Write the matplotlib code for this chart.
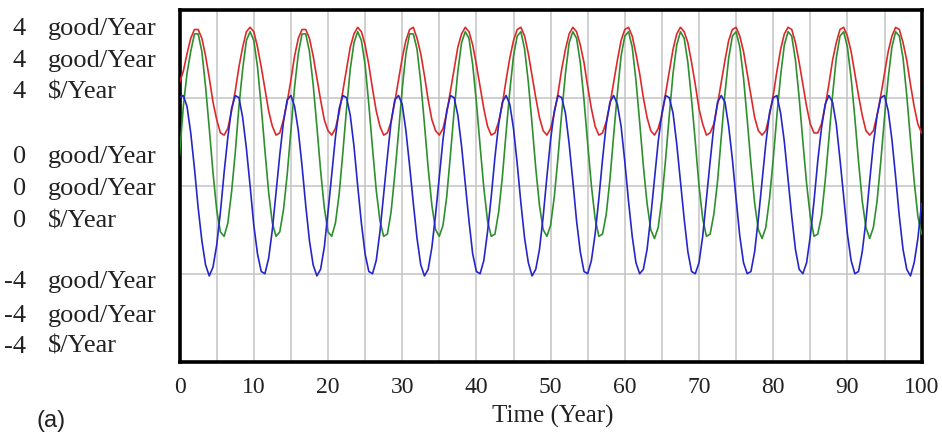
import numpy as np
import matplotlib
matplotlib.use("Agg")
import matplotlib.pyplot as plt

time = np.linspace(0, 100, 201)

red = [4.7, 5.2, 6.0, 6.7, 7.1, 7.1, 6.7, 5.9, 4.9, 3.8,
       3.0, 2.4, 2.3, 2.6, 3.4, 4.3, 5.4, 6.3, 7.0, 7.2,
       7.0, 6.3, 5.4, 4.4, 3.4, 2.7, 2.3, 2.4, 3.0, 3.8,
       4.8, 5.9, 6.7, 7.1, 7.1, 6.7, 5.9, 4.9, 3.9, 3.0,
       2.5, 2.3, 2.6, 3.3, 4.3, 5.3, 6.3, 6.9, 7.2, 7.0,
       6.4, 5.5, 4.4, 3.4, 2.7, 2.3, 2.4, 2.9, 3.8, 4.8,
       5.8, 6.6, 7.1, 7.2, 6.7, 6.0, 5.0, 3.9, 3.0, 2.5,
       2.3, 2.6, 3.3, 4.3, 5.3, 6.3, 6.9, 7.2, 7.0, 6.4,
       5.5, 4.5, 3.5, 2.7, 2.3, 2.4, 2.9, 3.7, 4.8, 5.8,
       6.6, 7.1, 7.2, 6.8, 6.0, 5.0, 4.0, 3.1, 2.5, 2.3,
       2.6, 3.3, 4.2, 5.3, 6.2, 6.9, 7.2, 7.0, 6.4, 5.6,
       4.5, 3.5, 2.7, 2.3, 2.4, 2.9, 3.7, 4.7, 5.7, 6.6,
       7.1, 7.2, 6.8, 6.0, 5.1, 4.0, 3.1, 2.5, 2.3, 2.6,
       3.2, 4.2, 5.2, 6.2, 6.9, 7.2, 7.0, 6.5, 5.6, 4.6,
       3.5, 2.8, 2.3, 2.4, 2.8, 3.7, 4.7, 5.7, 6.6, 7.1,
       7.2, 6.8, 6.1, 5.1, 4.1, 3.1, 2.5, 2.3, 2.5, 3.2,
       4.1, 5.2, 6.2, 6.9, 7.2, 7.1, 6.5, 5.6, 4.6, 3.6,
       2.8, 2.4, 2.4, 2.8, 3.6, 4.6, 5.7, 6.5, 7.1, 7.2,
       6.8, 6.1, 5.1, 4.1, 3.2, 2.5, 2.3, 2.5, 3.2, 4.1,
       5.1, 6.1, 6.8, 7.2, 7.1, 6.5, 5.7, 4.6, 3.6, 2.8,
       2.4]

green = [1.4, 3.6, 5.1, 6.1, 6.9, 6.9, 6.1, 4.5, 2.6, 0.6,
         -1.1, -2.1, -2.3, -1.7, -0.3, 1.5, 3.6, 5.3, 6.6, 7.0,
         6.6, 5.4, 3.6, 1.6, -0.3, -1.7, -2.3, -2.1, -1.1, 0.5,
         2.5, 4.5, 6.0, 6.9, 6.9, 6.1, 4.6, 2.7, 0.7, -1.0,
         -2.1, -2.3, -1.7, -0.4, 1.5, 3.5, 5.3, 6.5, 7.0, 6.6,
         5.5, 3.7, 1.7, -0.2, -1.6, -2.3, -2.2, -1.2, 0.5, 2.4,
         4.4, 6.0, 6.9, 6.9, 6.2, 4.7, 2.8, 0.8, -0.9, -2.0,
         -2.3, -1.8, -0.5, 1.4, 3.4, 5.2, 6.5, 7.0, 6.7, 5.5,
         3.8, 1.8, -0.1, -1.6, -2.3, -2.2, -1.2, 0.4, 2.4, 4.3,
         5.9, 6.8, 7.0, 6.2, 4.7, 2.8, 0.8, -0.9, -2.0, -2.3,
         -1.8, -0.5, 1.3, 3.3, 5.1, 6.5, 7.0, 6.7, 5.6, 3.9,
         1.9, 0.0, -1.5, -2.3, -2.2, -1.3, 0.3, 2.3, 4.2, 5.9,
         6.8, 7.0, 6.3, 4.8, 2.9, 0.9, -0.8, -2.0, -2.4, -1.9,
         -0.6, 1.2, 3.2, 5.1, 6.4, 7.0, 6.7, 5.6, 3.9, 2.0,
         0.0, -1.5, -2.3, -2.2, -1.3, 0.2, 2.2, 4.2, 5.8, 6.8,
         7.0, 6.3, 4.9, 3.0, 1.0, -0.8, -2.0, -2.4, -1.9, -0.6,
         1.2, 3.2, 5.0, 6.4, 7.0, 6.8, 5.7, 4.0, 2.0, 0.1,
         -1.4, -2.3, -2.2, -1.4, 0.2, 2.1, 4.1, 5.8, 6.8, 7.0,
         6.3, 4.9, 3.1, 1.1, -0.7, -1.9, -2.4, -1.9, -0.7, 1.1,
         3.1, 4.9, 6.3, 7.0, 6.8, 5.8, 4.1, 2.1, 0.2, -1.4,
         -2.2]

blue = [4.0, 4.1, 3.6, 2.4, 0.8, -1.0, -2.5, -3.6, -4.1, -3.7,
        -2.7, -1.2, 0.6, 2.2, 3.5, 4.1, 4.0, 3.1, 1.7, 0.0,
        -1.8, -3.1, -3.9, -4.0, -3.3, -2.0, -0.3, 1.4, 2.9, 3.9,
        4.1, 3.6, 2.5, 0.9, -0.9, -2.5, -3.6, -4.1, -3.8, -2.8,
        -1.2, 0.5, 2.2, 3.5, 4.1, 4.0, 3.2, 1.8, 0.0, -1.7,
        -3.1, -3.9, -4.0, -3.4, -2.1, -0.4, 1.3, 2.9, 3.9, 4.1,
        3.7, 2.5, 0.9, -0.8, -2.4, -3.6, -4.1, -3.8, -2.8, -1.3,
        0.4, 2.1, 3.4, 4.1, 4.0, 3.2, 1.8, 0.1, -1.6, -3.1,
        -3.9, -4.0, -3.4, -2.1, -0.5, 1.3, 2.8, 3.8, 4.1, 3.7,
        2.6, 1.0, -0.8, -2.4, -3.5, -4.1, -3.8, -2.9, -1.4, 0.4,
        2.1, 3.4, 4.1, 4.0, 3.3, 1.9, 0.2, -1.6, -3.0, -3.9,
        -4.0, -3.4, -2.2, -0.6, 1.2, 2.8, 3.8, 4.1, 3.7, 2.7,
        1.1, -0.7, -2.3, -3.5, -4.0, -3.8, -2.9, -1.4, 0.3, 2.0,
        3.3, 4.1, 4.0, 3.3, 1.9, 0.2, -1.5, -3.0, -3.9, -4.0,
        -3.5, -2.3, -0.6, 1.1, 2.7, 3.8, 4.1, 3.8, 2.7, 1.2,
        -0.6, -2.3, -3.5, -4.0, -3.9, -3.0, -1.5, 0.2, 1.9, 3.3,
        4.0, 4.1, 3.3, 2.0, 0.3, -1.4, -2.9, -3.8, -4.0, -3.5,
        -2.3, -0.7, 1.1, 2.6, 3.7, 4.1, 3.8, 2.8, 1.2, -0.5,
        -2.2, -3.4, -4.0, -3.9, -3.0, -1.6, 0.2, 1.9, 3.2, 4.0,
        4.1, 3.4, 2.1, 0.4, -1.4, -2.9, -3.8, -4.1, -3.5, -2.4,
        -0.8]

x_ticks = [0, 10, 20, 30, 40, 50, 60, 70, 80, 90, 100]
x_tick_labels = ["0", "10", "20", "30", "40", "50", "60", "70", "80", "90", "100"]
y_tick_values = [4, 0, -4]
y_tick_text = ["4", "0", "-4"]
y_units = ["good/Year", "good/Year", "$/Year"]
x_label = "Time (Year)"
panel_label = "(a)"

# ---- figure ----
W, H = 942, 433
fig = plt.figure(figsize=(W / 100, H / 100), dpi=100)
fig.patch.set_facecolor("white")
serif = "Liberation Serif"

ax = fig.add_axes([179.6 / W, 1 - 361.7 / H, 742 / W, 352 / H])
ax.set_xlim(0, 100)
ax.set_ylim(-8, 8)

ax.plot(time, red, color="#dc2a2a", lw=1.2, zorder=3)
ax.plot(time, green, color="#2e8f2e", lw=1.2, zorder=3)
ax.plot(time, blue, color="#2626c8", lw=1.2, zorder=4)

ax.set_xticks(x_ticks)
ax.set_xticklabels(x_tick_labels, fontfamily=serif, fontsize=17)
ax.set_xticks(np.arange(0, 101, 5), minor=True)
ax.set_yticks(y_tick_values)
ax.set_yticklabels([])
ax.tick_params(axis="both", which="both", length=0)
ax.tick_params(axis="x", pad=11, colors="#222222")
ax.grid(True, axis="x", which="both", color="#c4c4c4", lw=1.1)
ax.grid(True, axis="y", which="major", color="#c4c4c4", lw=1.1)
ax.set_axisbelow(True)
for sp in ax.spines.values():
    sp.set_linewidth(2.6)
    sp.set_color("black")

# stacked y labels (Vensim style)
baselines = [[35, 67, 98], [163, 195, 227], [288, 322, 353]]
for val_txt, rows in zip(y_tick_text, baselines):
    for unit, yb in zip(y_units, rows):
        fig.text(26 / W, 1 - yb / H, val_txt, ha="right", va="baseline",
                 fontfamily=serif, fontsize=19, color="#222222")
        fig.text(48 / W, 1 - yb / H, unit, ha="left", va="baseline",
                 fontfamily=serif, fontsize=19, color="#222222")

fig.text(553 / W, 1 - 423 / H, x_label, ha="center", va="baseline",
         fontfamily=serif, fontsize=18, color="#222222")
fig.text(36 / W, 1.5 / H, panel_label, ha="left", va="bottom",
         fontfamily="Liberation Sans", fontsize=17, color="#222222")

fig.savefig("out.png", dpi=100, facecolor="white")
